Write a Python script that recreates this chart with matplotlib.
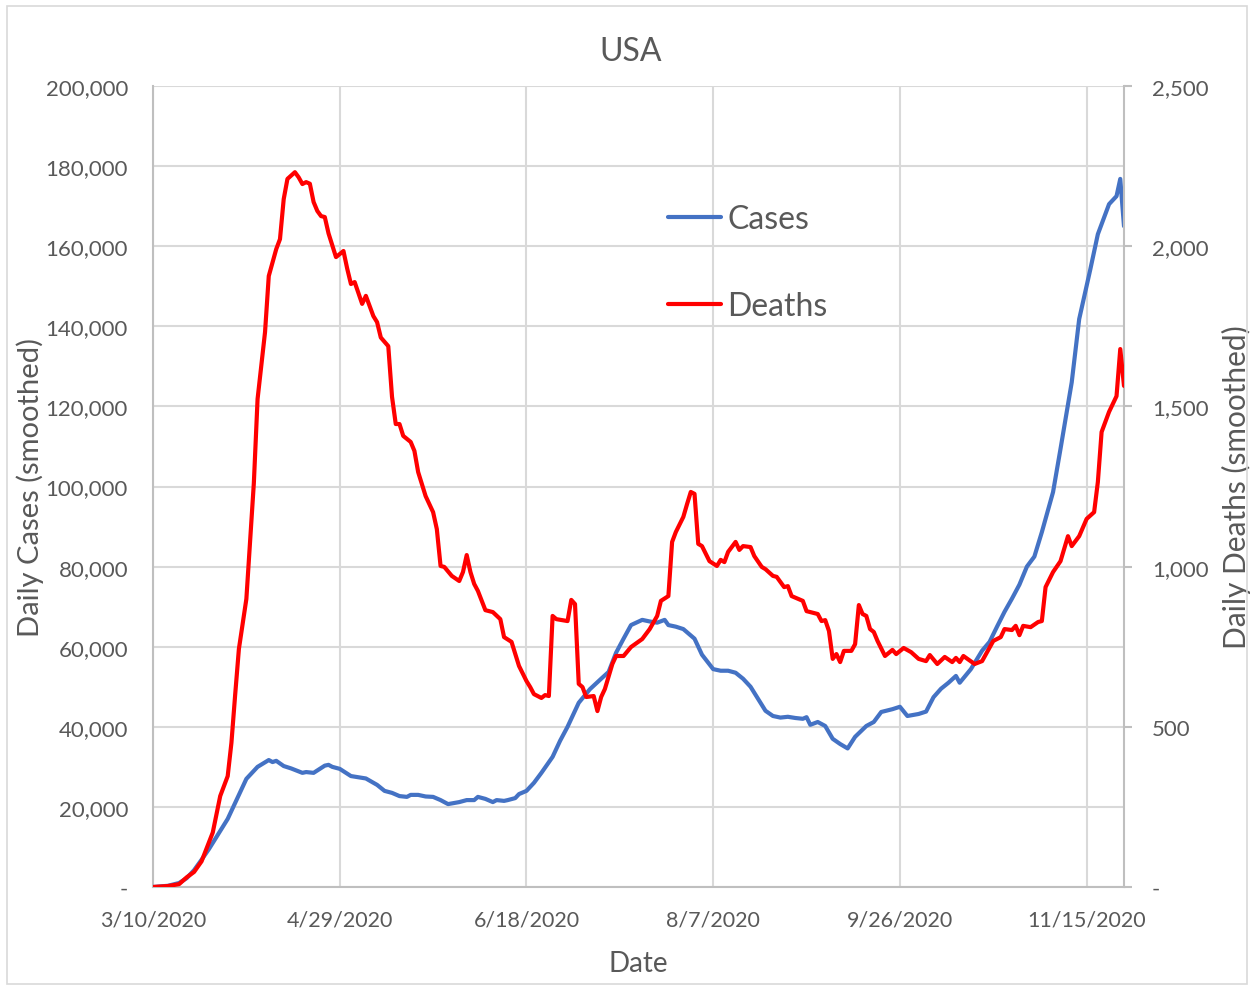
import matplotlib
matplotlib.use('Agg')
import matplotlib.pyplot as plt
import matplotlib.ticker as mticker
import matplotlib.dates as mdates
import matplotlib.patches as mpatches
import pandas as pd

plt.rcParams['font.family'] = ['Lato', 'DejaVu Sans']

start = pd.Timestamp('2020-03-10')

# daily cases, smoothed (days after 3/10/2020, thousands)
case_days = [0, 4, 7, 9, 11, 13, 15, 17, 20, 23, 25, 28, 31, 32, 33, 35, 37, 40, 41, 43,
             46, 47, 48, 50, 53, 57, 60, 62, 64, 66, 68, 69, 71, 73, 75, 77, 79, 82, 84, 86,
             87, 89, 91, 92, 94, 95, 97, 98, 100, 102, 104, 107, 109, 111, 114, 117, 120, 122, 124, 126,
             128, 131, 133, 135, 137, 138, 140, 142, 145, 147, 150, 152, 154, 156, 158, 160, 162, 164, 166, 168,
             170, 172, 174, 175, 176, 178, 180, 182, 184, 186, 188, 191, 193, 195, 198, 200, 202, 205, 207, 209,
             211, 213, 215, 216, 219, 222, 224, 226, 228, 230, 232, 234, 236, 238, 241, 243, 246, 248, 251, 253,
             256, 258, 259, 260]
case_k = [0, 0.3, 1.0, 2.2, 4.2, 6.8, 9.5, 12.5, 17, 23, 27, 30, 31.7, 31.2, 31.5, 30.2, 29.6, 28.5, 28.7, 28.5,
          30.3, 30.5, 30, 29.5, 27.7, 27.1, 25.5, 24, 23.5, 22.7, 22.5, 23, 23, 22.6, 22.5, 21.7, 20.7, 21.2, 21.7, 21.7,
          22.5, 22, 21.2, 21.7, 21.5, 21.7, 22.2, 23.2, 24, 26, 28.5, 32.5, 36.5, 40, 46, 49.4, 52, 53.7, 58.5, 62,
          65.4, 66.7, 66.3, 66, 66.7, 65.4, 65, 64.4, 62, 58, 54.4, 54, 54, 53.5, 52, 50, 47, 44, 42.7, 42.3,
          42.5, 42.2, 42, 42.4, 40.5, 41.2, 40.2, 37, 35.7, 34.6, 37.5, 40.2, 41.2, 43.7, 44.4, 45, 42.7, 43.2, 43.8, 47.4,
          49.5, 51, 52.7, 51, 54.4, 59, 61.2, 65, 68.7, 72, 75.5, 80, 82.5, 88.6, 98.6, 109.4, 126, 141.8, 154.3, 163,
          170.5, 172.5, 176.8, 165]

# daily deaths, smoothed
death_days = [0, 4, 7, 9, 11, 13, 15, 16, 18, 20, 21, 22, 23, 25, 26, 27, 28, 30, 31, 33,
              34, 35, 36, 38, 39, 40, 41, 42, 43, 44, 45, 46, 47, 49, 51, 52, 53, 54, 56, 57,
              59, 60, 61, 63, 64, 65, 66, 67, 69, 70, 71, 73, 75, 76, 77, 78, 80, 82, 83, 84,
              85, 86, 87, 89, 91, 93, 94, 96, 98, 100, 101, 102, 104, 105, 106, 107, 108, 111, 112, 113,
              114, 115, 116, 118, 119, 120, 121, 123, 124, 126, 128, 131, 133, 135, 136, 138, 139, 140, 142, 143,
              144, 145, 146, 147, 149, 151, 152, 153, 154, 156, 157, 158, 160, 161, 163, 164, 166, 167, 169, 170,
              171, 174, 175, 178, 179, 180, 181, 182, 183, 184, 185, 187, 188, 189, 190, 191, 192, 193, 194, 196,
              198, 199, 201, 203, 205, 207, 208, 210, 212, 214, 215, 216, 217, 220, 222, 225, 227, 228, 230, 231,
              232, 233, 235, 237, 238, 239, 241, 243, 245, 246, 248, 250, 252, 253, 254, 256, 258, 259, 260]
deaths = [0, 3, 9, 30, 47, 80, 140, 170, 284, 346, 450, 600, 743, 899, 1080, 1260, 1523, 1732, 1907, 1991,
          2022, 2147, 2210, 2231, 2215, 2194, 2200, 2195, 2138, 2110, 2094, 2091, 2040, 1966, 1985, 1930, 1882, 1888, 1820, 1845,
          1782, 1763, 1715, 1688, 1530, 1445, 1445, 1408, 1389, 1361, 1295, 1220, 1170, 1117, 1002, 999, 971, 955, 983, 1036,
          983, 946, 924, 864, 858, 836, 780, 765, 690, 643, 624, 602, 590, 599, 596, 846, 836, 830, 896, 883,
          634, 624, 593, 596, 549, 593, 618, 696, 721, 721, 749, 774, 805, 846, 893, 908, 1077, 1108, 1155, 1195,
          1233, 1227, 1071, 1064, 1017, 1002, 1021, 1014, 1046, 1077, 1052, 1064, 1061, 1033, 999, 992, 971, 968, 936, 939,
          908, 893, 861, 852, 830, 833, 799, 712, 727, 702, 737, 737, 758, 880, 852, 846, 805, 796, 768, 721,
          740, 727, 746, 733, 712, 705, 724, 696, 718, 702, 715, 702, 721, 696, 705, 768, 780, 805, 802, 815,
          786, 815, 811, 827, 830, 936, 983, 1017, 1095, 1064, 1095, 1149, 1170, 1264, 1420, 1483, 1532, 1679, 1564]

case_dates = start + pd.to_timedelta(case_days, unit='D')
death_dates = start + pd.to_timedelta(death_days, unit='D')
cases = [v * 1000 for v in case_k]

txt = '#595959'
grid = '#d9d9d9'
axis_c = '#bfbfbf'

fig = plt.figure(figsize=(12.53, 9.87), dpi=100)
fig.patches.append(mpatches.Rectangle((7 / 1253, 2 / 987), 1240 / 1253, 978 / 987, transform=fig.transFigure,
                                      fill=False, edgecolor=grid, linewidth=1.2))
ax = fig.add_axes([153 / 1253, 1 - 888 / 987, (1124 - 153) / 1253, (888 - 87) / 987])
ax2 = ax.twinx()

l1, = ax.plot(case_dates, cases, color='#4472C4', lw=3.0, label='Cases', zorder=3,
              solid_joinstyle='round', solid_capstyle='round')
l2, = ax2.plot(death_dates, deaths, color='#FF0000', lw=3.0, label='Deaths', zorder=3,
               solid_joinstyle='round', solid_capstyle='round')

ax.set_xlim(start, start + pd.Timedelta(days=260))
ax.set_ylim(0, 200000)
ax2.set_ylim(0, 2500)

ax.xaxis.set_major_locator(mticker.FixedLocator([mdates.date2num(start + pd.Timedelta(days=d)) for d in range(0, 251, 50)]))
ax.xaxis.set_major_formatter(mticker.FuncFormatter(
    lambda v, p: (lambda d: f'{d.month}/{d.day}/{d.year}')(mdates.num2date(v))))
ax.yaxis.set_major_locator(mticker.MultipleLocator(20000))
ax2.yaxis.set_major_locator(mticker.MultipleLocator(500))
fmt = mticker.FuncFormatter(lambda v, p: '-' if v == 0 else f'{v:,.0f}')
ax.yaxis.set_major_formatter(fmt)
ax2.yaxis.set_major_formatter(fmt)

ax.grid(True, color=grid, lw=1.5)
ax.set_axisbelow(True)
for s in ['top', 'right']:
    ax.spines[s].set_visible(False)
for s in ['top', 'left', 'bottom']:
    ax2.spines[s].set_visible(False)
ax.spines['left'].set_color(axis_c)
ax.spines['bottom'].set_color(axis_c)
ax.spines['left'].set_linewidth(1.5)
ax.spines['bottom'].set_linewidth(1.5)
ax2.spines['right'].set_color(axis_c)
ax2.spines['right'].set_linewidth(1.5)

ax.tick_params(axis='x', length=0, pad=16, labelsize=15.5, labelcolor=txt)
ax.tick_params(axis='y', length=0, pad=18, labelsize=16, labelcolor=txt)
ax2.tick_params(axis='y', length=6, width=1.5, color=axis_c, pad=14, labelsize=16, labelcolor=txt)

fig.text(631 / 1253, 1 - 52 / 987, 'USA', fontsize=23, color=txt, ha='center', va='center')
ax.set_xlabel('Date', fontsize=20, color=txt, labelpad=15)
ax.set_ylabel('Daily Cases (smoothed)', fontsize=21, color=txt, labelpad=1)
ax2.set_ylabel('Daily Deaths (smoothed)', fontsize=21.5, color=txt, labelpad=10)

fig.legend(handles=[l1, l2], loc='upper left', bbox_to_anchor=(668 / 1253, 1 - 205 / 987), frameon=False,
           fontsize=23, labelcolor=txt, handlelength=1.65, handletextpad=0.2, labelspacing=1.8,
           borderpad=0, borderaxespad=0)

fig.savefig('out.png', dpi=100)
